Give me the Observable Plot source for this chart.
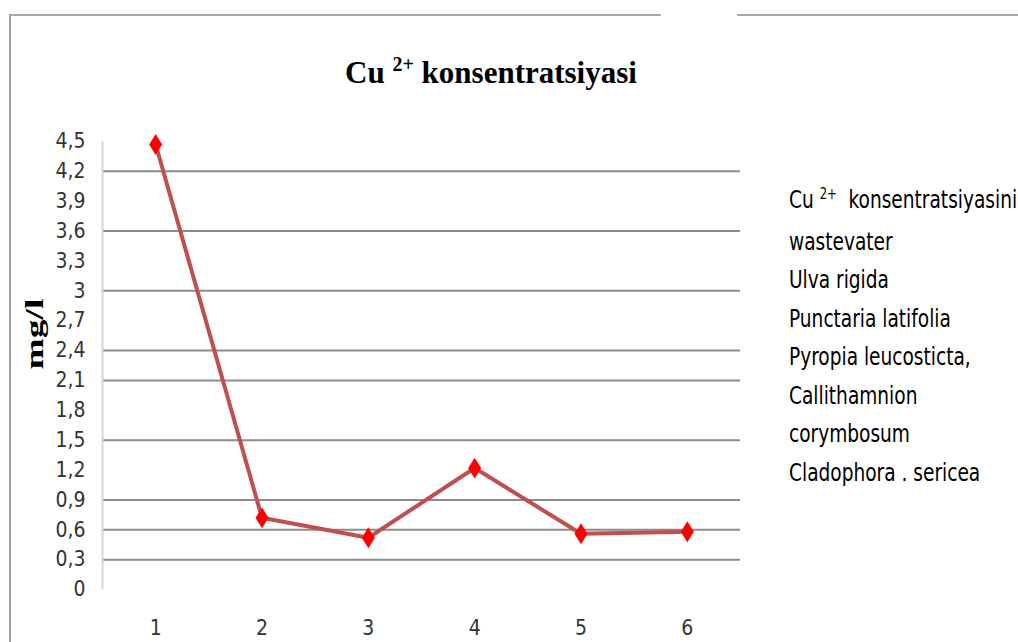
<!DOCTYPE html>
<html>
<head>
<meta charset="utf-8">
<script src="https://cdn.jsdelivr.net/npm/d3@7"></script>
<script src="https://cdn.jsdelivr.net/npm/@observablehq/plot@0.6"></script>
<style>
  html, body { margin: 0; padding: 0; background: #fff; }
  #wrap { position: relative; width: 1018px; height: 642px; overflow: hidden; background: #fff; }
  #chart { position: absolute; left: 0; top: 0; }
  .border { position: absolute; }
  #title { position: absolute; left: 0; top: 57px; width: 982px; text-align: center;
           font-family: "Liberation Serif", "DejaVu Serif", serif; font-weight: bold; font-size: 31px;
           line-height: 31px; color: #000; white-space: nowrap; }
  #title sup { font-size: 20px; vertical-align: 0; position: relative; top: -12px; }
  #ylabel { position: absolute; left: 34px; top: 334px; white-space: nowrap;
            font-family: "Liberation Serif", "DejaVu Serif", serif; font-weight: bold; font-size: 25px; line-height: 25px;
            color: #000; transform: translate(-50%, -50%) rotate(-90deg) scaleX(1.5); }
  #legend { position: absolute; left: 789px; top: 181px; font-family: "DejaVu Sans Condensed", "DejaVu Sans", sans-serif;
            font-stretch: condensed; font-size: 24px; line-height: 38.5px; color: #000; white-space: nowrap;
            transform: scaleX(0.86); transform-origin: 0 0; }
  #legend sup { font-size: 15px; vertical-align: 0; position: relative; top: -9px; }
</style>
</head>
<body>
<div id="wrap">
  <div id="chart"></div>
  <div class="border" style="left:10px;top:14px;width:651px;border-top:2.5px solid #a8a8a8;"></div>
  <div class="border" style="left:737px;top:14px;width:281px;border-top:2.5px solid #a8a8a8;"></div>
  <div class="border" style="left:9px;top:14px;height:628px;border-left:2px solid #a0a0a0;"></div>
  <div id="title"></div>
  <div id="ylabel"></div>
  <div id="legend"></div>
</div>
<script>
// ---- data ----
const categories = [1, 2, 3, 4, 5, 6];
const values = [4.47, 0.72, 0.52, 1.22, 0.56, 0.58];
const yTicks = [0, 0.3, 0.6, 0.9, 1.2, 1.5, 1.8, 2.1, 2.4, 2.7, 3, 3.3, 3.6, 3.9, 4.2, 4.5];
const gridY = [0.3, 0.6, 0.9, 1.5, 2.1, 2.4, 3, 3.6, 4.2];
const titleMain = "Cu";
const titleSup = "2+";
const titleRest = "konsentratsiyasi";
const yLabel = "mg/l";
const legendFirst = ["Cu", "2+", "konsentratsiyasini"];
const legendLines = ["wastevater", "Ulva rigida", "Punctaria latifolia", "Pyropia leucosticta,",
                     "Callithamnion", "corymbosum", "Cladophora . sericea"];

const data = categories.map((c, i) => ({cat: c, val: values[i]}));

// tall diamond marker
const tallDiamond = {
  draw(ctx, size) {
    const r = Math.sqrt(size / Math.PI);
    ctx.moveTo(0, -1.6 * r);
    ctx.lineTo(r, 0);
    ctx.lineTo(0, 1.6 * r);
    ctx.lineTo(-r, 0);
    ctx.closePath();
  }
};

const chart = Plot.plot({
  width: 1018,
  height: 642,
  marginLeft: 102,
  marginRight: 278,
  marginTop: 141,
  marginBottom: 53,
  style: {
    fontFamily: "'DejaVu Sans Condensed', 'DejaVu Sans', sans-serif",
    fontSize: "21px",
    color: "#333",
    background: "transparent"
  },
  x: {domain: [0.5, 6.5], ticks: categories, tickSize: 0, tickPadding: 31, label: null, tickFormat: d => String(d)},
  y: {domain: [0, 4.5], ticks: yTicks, tickSize: 0, tickPadding: 17, label: null,
      tickFormat: d => String(d).replace(".", ",")},
  marks: [
    Plot.ruleY(gridY, {stroke: "#8c8c8c", strokeWidth: 2}),
    Plot.ruleX([0.5], {y1: 0, y2: 4.5, stroke: "#d6d6d6", strokeWidth: 2}),
    Plot.line(data, {x: "cat", y: "val", stroke: "#c0504d", strokeWidth: 4}),
    Plot.dot(data, {x: "cat", y: "val", symbol: tallDiamond, r: 6.5, fill: "#ff0000", stroke: "none"})
  ]
});
document.getElementById("chart").appendChild(chart);

document.getElementById("title").innerHTML = `${titleMain} <sup>${titleSup}</sup> ${titleRest}`;
document.getElementById("ylabel").textContent = yLabel;
const leg = document.getElementById("legend");
leg.innerHTML = `<div>${legendFirst[0]} <sup>${legendFirst[1]}</sup>&nbsp; ${legendFirst[2]}</div>` +
  legendLines.map(t => `<div>${t}</div>`).join("");
</script>
</body>
</html>
